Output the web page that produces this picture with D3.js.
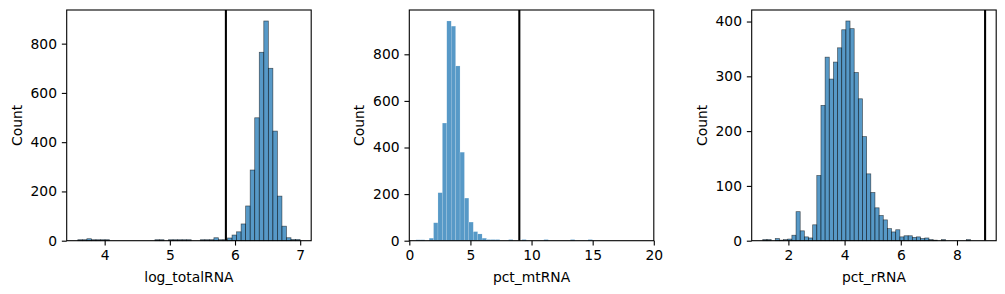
<!DOCTYPE html>
<html><head><meta charset="utf-8">
<script src="https://cdn.jsdelivr.net/npm/d3@7"></script>
<style>body{margin:0;background:#fff} svg{display:block} text{font-family:"DejaVu Sans",sans-serif}</style>
</head><body><svg id="c" width="1005" height="294"></svg>
<script>
// ---- data ----
const xLabels = ["log_totalRNA", "pct_mtRNA", "pct_rRNA"];
const yLabel = "Count";

const totalStart = 3.588, totalWidth = 0.0696;
const totalCounts = [4,4,8,4,4,4,4,0,0,0,0,0,0,0,0,0,0,4,4,0,4,4,4,4,4,0,0,4,4,4,12,4,4,11,23,36,68,141,287,499,765,892,700,445,181,59,12,5,5];

const mtStart = 0.54, mtWidth = 0.361;
const mtCounts = [4,4,0,11,77,206,505,943,921,750,380,183,80,39,29,11,5,5,5,0,0,5,0,0,5,0,0,0,0,5,0,0,0,0,0,5,0,0,0,5];

const rStart = 1.09, rWidth = 0.1478;
const rCounts = [2,2,0,4,1,2,3,10,53,18,7,5,29,119,247,335,295,326,352,385,401,387,307,259,190,122,88,60,46,38,22,16,20,7,9,9,6,7,4,5,2,1,0,2,0,0,0,0,0,2];

const thresholds = [5.86, 9, 9];
const xTicks = [[4,5,6,7],[0,5,10,15,20],[2,4,6,8]];
const yTicks = [[0,200,400,600,800],[0,200,400,600,800],[0,100,200,300,400]];
const fixedXDomain = [null, [0,20], null];

// ---- layout ----
const lefts = [66.7, 409.3, 751.7];
const PW = 244.5, PT = 10, PH = 230.7;
const FS = 13.89, TK = 4.86;

const svg = d3.select("#c");
const panels = [
  {start: totalStart, width: totalWidth, counts: totalCounts, edge: "dark"},
  {start: mtStart, width: mtWidth, counts: mtCounts, edge: "light"},
  {start: rStart, width: rWidth, counts: rCounts, edge: "dark"}
];

panels.forEach((p, k) => {
  const n = p.counts.length;
  const lo = p.start, hi = p.start + n * p.width;
  let dom;
  if (fixedXDomain[k]) dom = fixedXDomain[k];
  else {
    const a = Math.min(lo, thresholds[k]), b = Math.max(hi, thresholds[k]);
    const pad = (b - a) * 0.05;
    dom = [a - pad, b + pad];
  }
  const x = d3.scaleLinear().domain(dom).range([0, PW]);
  const y = d3.scaleLinear().domain([0, d3.max(p.counts) * 1.05]).range([PH, 0]);
  const g = svg.append("g").attr("transform", `translate(${lefts[k]},${PT})`);

  const bins = p.counts.map((c, i) => ({x0: p.start + i * p.width, x1: p.start + (i + 1) * p.width, c}))
    .filter(d => d.c > 0);
  g.append("g").selectAll("rect").data(bins).join("rect")
    .attr("x", d => x(d.x0)).attr("width", d => x(d.x1) - x(d.x0))
    .attr("y", d => y(d.c)).attr("height", d => y(0) - y(d.c))
    .attr("fill", "#1f77b4").attr("fill-opacity", 0.75)
    .attr("stroke", p.edge === "dark" ? "#000" : "#fff")
    .attr("stroke-opacity", p.edge === "dark" ? 0.6 : 0.5)
    .attr("stroke-width", p.edge === "dark" ? 0.7 : 0.3);

  g.append("line").attr("x1", x(thresholds[k])).attr("x2", x(thresholds[k]))
    .attr("y1", 0).attr("y2", PH).attr("stroke", "#000").attr("stroke-width", 2.08);

  const xa = g.append("g").attr("transform", `translate(0,${PH})`)
    .call(d3.axisBottom(x).tickValues(xTicks[k]).tickSize(TK).tickPadding(TK).tickFormat(d3.format("d")));
  const ya = g.append("g")
    .call(d3.axisLeft(y).tickValues(yTicks[k]).tickSize(TK).tickPadding(TK).tickFormat(d3.format("d")));
  [xa, ya].forEach(a => {
    a.select(".domain").remove();
    a.attr("font-size", FS).attr("font-family", "DejaVu Sans");
    a.selectAll("line").attr("stroke", "#000").attr("stroke-width", 1.1);
    a.selectAll("text").attr("fill", "#000");
  });

  g.append("rect").attr("x", 0).attr("y", 0).attr("width", PW).attr("height", PH)
    .attr("fill", "none").attr("stroke", "#000").attr("stroke-width", 1.1);

  g.append("text").attr("x", PW / 2).attr("y", 272).attr("text-anchor", "middle")
    .attr("font-size", FS).text(xLabels[k]);
  g.append("text").attr("transform", `translate(-50,${PH / 2}) rotate(-90)`)
    .attr("dy", "0.35em").attr("text-anchor", "middle").attr("font-size", FS).text(yLabel);
});
</script></body></html>
